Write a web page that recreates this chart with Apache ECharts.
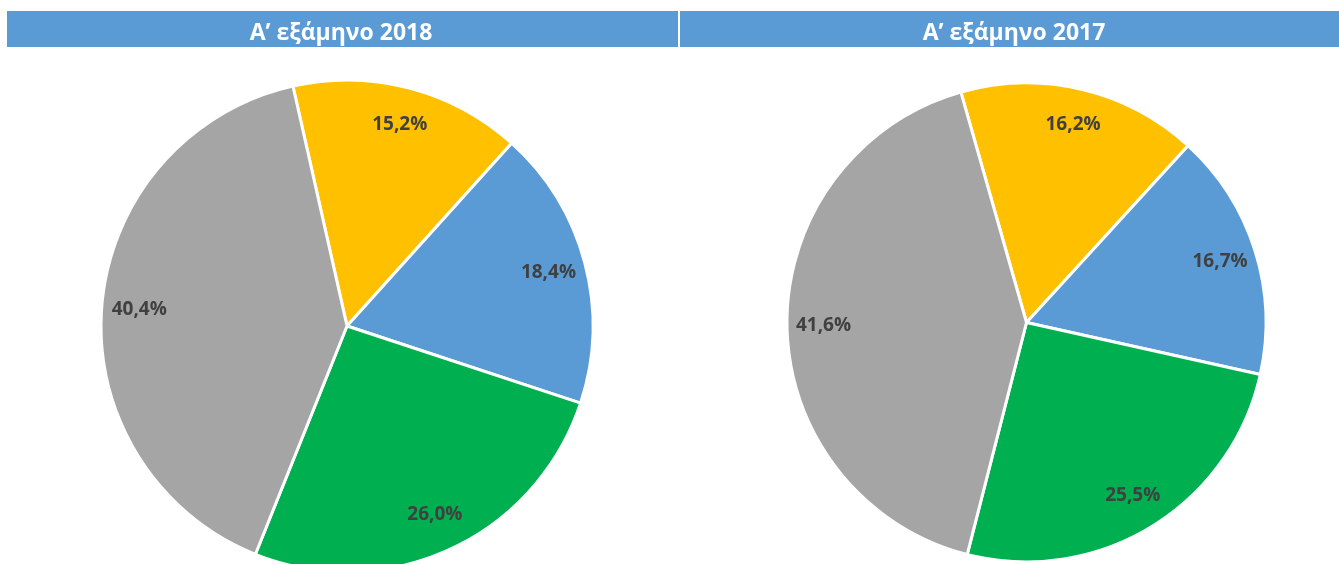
<!DOCTYPE html>
<html>
<head>
<meta charset="utf-8">
<script src="https://cdn.jsdelivr.net/npm/echarts@6/dist/echarts.min.js"></script>
<style>
  html, body { margin: 0; padding: 0; background: #fff; }
  #main { width: 1339px; height: 564px; }
</style>
</head>
<body>
<div id="main"></div>
<script>
// δεδομένα των δύο γραφημάτων (σειρά: κίτρινο, μπλε, πράσινο, γκρι)
var categories = ['Κατηγορία 1', 'Κατηγορία 2', 'Κατηγορία 3', 'Κατηγορία 4'];
var values2018 = [15.2, 18.4, 26.0, 40.4];
var values2017 = [16.2, 16.7, 25.5, 41.6];
var titles = ['A’ εξάμηνο 2018', 'A’ εξάμηνο 2017'];
var colors = ['#FFC000', '#5B9BD5', '#00B050', '#A5A5A5'];

function toData(values) {
    return categories.map(function (c, i) {
        return { name: c, value: values[i] };
    });
}

function fmt(p) {
    return p.value.toFixed(1).replace('.', ',') + '%';
}

function pieSeries(values, center, r, startAngle) {
    return [
        {
            type: 'pie',
            center: center,
            radius: [0, r],
            startAngle: startAngle,
            clockwise: true,
            silent: true,
            color: colors,
            itemStyle: { borderColor: '#fff', borderWidth: 3 },
            label: { show: false },
            labelLine: { show: false },
            data: toData(values)
        },
        {
            // διαφανής σειρά μόνο για τις ετικέτες
            type: 'pie',
            center: center,
            radius: [r * 0.835 - 7, r * 0.835 + 7],
            startAngle: startAngle,
            clockwise: true,
            silent: true,
            itemStyle: { color: 'rgba(0,0,0,0)', borderWidth: 0 },
            label: {
                show: true,
                position: 'inside',
                formatter: fmt,
                color: '#404040',
                fontFamily: 'Open Sans',
                fontWeight: 'bold',
                fontSize: 19
            },
            labelLine: { show: false },
            data: toData(values)
        }
    ];
}

var chart = echarts.init(document.getElementById('main'));
var option = {
    animation: false,
    title: [
        {
            text: titles[0], left: 336, top: 28, textAlign: 'center', textVerticalAlign: 'middle',
            textStyle: { color: '#fff', fontFamily: 'Open Sans', fontWeight: 'bold', fontSize: 23 }
        },
        {
            text: titles[1], left: 1009, top: 28, textAlign: 'center', textVerticalAlign: 'middle',
            textStyle: { color: '#fff', fontFamily: 'Open Sans', fontWeight: 'bold', fontSize: 23 }
        }
    ],
    graphic: [
        { type: 'rect', z: -1, shape: { x: 7, y: 11, width: 671, height: 36 }, style: { fill: '#5B9BD5' } },
        { type: 'rect', z: -1, shape: { x: 680, y: 11, width: 659, height: 36 }, style: { fill: '#5B9BD5' } }
    ],
    series: [].concat(
        pieSeries(values2018, [347, 326], 246, 102.7),
        pieSeries(values2017, [1026.5, 322.5], 239.5, 105.9)
    )
};
chart.setOption(option);
</script>
</body>
</html>
